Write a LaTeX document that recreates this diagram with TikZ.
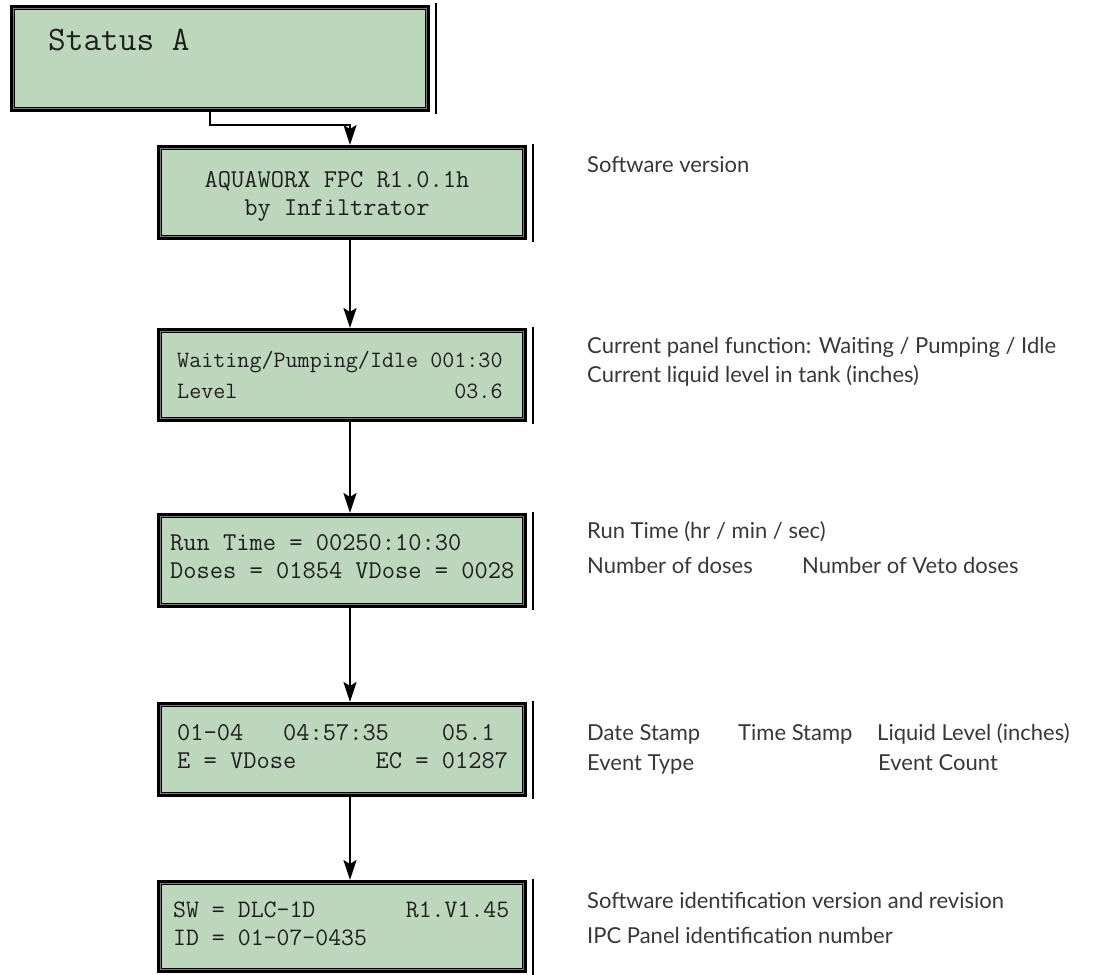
\documentclass[tikz,border=0pt]{standalone}
\usepackage{fontspec}
\newfontfamily\labfont{Lato}
\usetikzlibrary{arrows.meta,calc}
\definecolor{lcdgreen}{HTML}{BCD7BB}
\definecolor{labgray}{HTML}{383838}
\definecolor{rimgray}{HTML}{7A7A7A}
\tikzset{
  lcd/.style={rectangle, fill=lcdgreen, draw=black, line width=5pt, inner sep=0pt},
  lcdtxt/.style={anchor=base west, inner sep=0pt, font=\ttfamily\fontsize{#1}{#1}\selectfont, text=black!88},
  lab/.style={anchor=base west, inner sep=0pt, font=\labfont\fontsize{22}{22}\selectfont, text=labgray},
  tip/.style={-{Stealth[length=20pt,width=13pt,inset=4pt]}},
  flow/.style={line width=2.4pt, tip},
}
\newcommand{\lcdrim}[1]{%
  \draw[rimgray, line width=1.5pt] ([shift={(3.5,3.5)}]#1.north west) rectangle ([shift={(-3.5,-3.5)}]#1.south east);
  \draw[black, line width=1.8pt] ([shift={(6,-1.5)}]#1.north east) -- ([shift={(6,1.5)}]#1.south east);
}
\begin{document}
\begin{tikzpicture}[x=1pt,y=-1pt]
\useasboundingbox (0,0) rectangle (1110,974);
\fill[white] (0,0) rectangle (1110,974);

% boxes
\node[lcd, minimum width=415pt, minimum height=102pt] (b1) at (220,58.5) {};
\node[lcd, minimum width=365pt, minimum height=90pt] (b2) at (342,192.5) {};
\node[lcd, minimum width=365pt, minimum height=89pt] (b3) at (342,375) {};
\node[lcd, minimum width=365pt, minimum height=90pt] (b4) at (342,560.5) {};
\node[lcd, minimum width=365pt, minimum height=90pt] (b5) at (342,749.5) {};
\node[lcd, minimum width=365pt, minimum height=88pt] (b6) at (342,926.5) {};
\lcdrim{b1}\lcdrim{b2}\lcdrim{b3}\lcdrim{b4}\lcdrim{b5}\lcdrim{b6}

% screen texts
\node[lcdtxt=34.3] (t1) at (48,51) {Status A};
\node[lcdtxt=25.7, anchor=base] (t2a) at (337,187) {AQUAWORX FPC R1.0.1h};
\node[lcdtxt=25.7, anchor=base] (t2b) at (337,215) {by Infiltrator};
\node[lcdtxt=23.4] (t3a) at (177,367) {Waiting/Pumping/Idle\ 001:30};
\node[lcdtxt=23.4] (t3b) at (177,398) {Level\ \ \ \ \ \ \ \ \ \ \ \ \ \ \ \ \ \ 03.6};
\node[lcdtxt=25.7] (t4a) at (170,550) {Run Time = 00250:10:30};
\node[lcdtxt=25.7] (t4b) at (170,578) {Doses = 01854 VDose = 0028};
\node[lcdtxt=25.7] (t5a) at (177,740) {01-04\ \ \ 04:57:35\ \ \ \ 05.1};
\node[lcdtxt=25.7] (t5b) at (177,768) {E = VDose\ \ \ \ \ \ EC = 01287};
\node[lcdtxt=25.1] (t6a) at (173,917) {SW = DLC-1D\ \ \ \ \ \ \ R1.V1.45};
\node[lcdtxt=25.1] (t6b) at (173,945) {ID = 01-07-0435};

% connectors
\coordinate (k1) at (210,0);
\coordinate (k2) at (350,0);
\coordinate (bend) at (350,125);
\draw[line width=2pt, tip] (b1.south -| k1) |- (bend) -- (b2.north -| k2);
\draw[flow] (b2.south -| k2) -- (b3.north -| k2);
\draw[flow] (b3.south -| k2) -- (b4.north -| k2);
\draw[flow] (b4.south -| k2) -- (b5.north -| k2);
\draw[flow] (b5.south -| k2) -- (b6.north -| k2);

% explanations
\node[lab] (l1) at (587,172) {Software version};
\node[lab] (l2) at (587,353) {Current panel function: Waiting / Pumping / Idle};
\node[lab] (l3) at (587,382) {Current liquid level in tank (inches)};
\node[lab] (l4) at (587,538) {Run Time (hr / min / sec)};
\node[lab] (l5) at (587,573) {Number of doses};
\node[lab] (l6) at (802,573) {Number of Veto doses};
\node[lab] (l7) at (587,740) {Date Stamp};
\node[lab] (l8) at (738,740) {Time Stamp};
\node[lab] (l9) at (877,740) {Liquid Level (inches)};
\node[lab] (l10) at (587,770) {Event Type};
\node[lab] (l11) at (878,770) {Event Count};
\node[lab] (l12) at (587,908) {Software identification version and revision};
\node[lab] (l13) at (587,943) {IPC Panel identification number};
\end{tikzpicture}
\end{document}
